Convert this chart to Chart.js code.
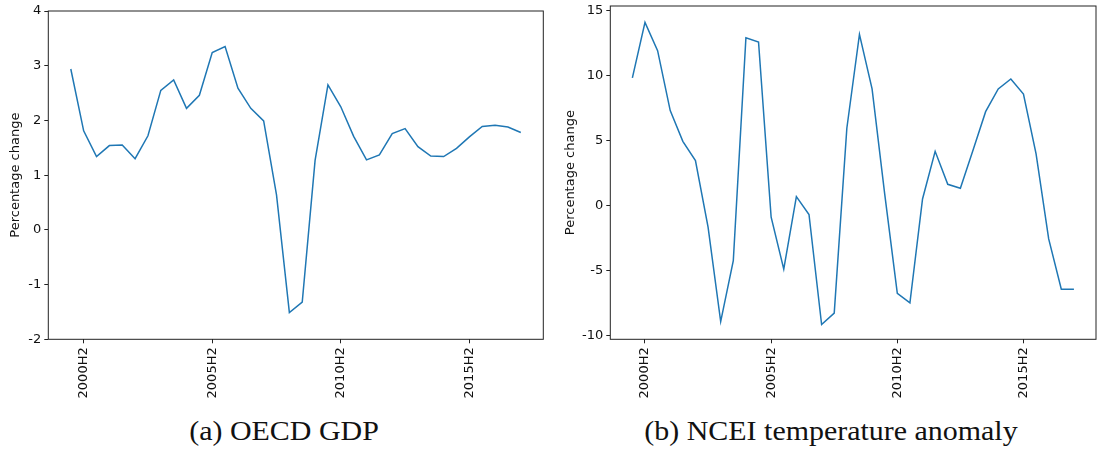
<!DOCTYPE html>
<html>
<head>
<meta charset="utf-8">
<title>OECD GDP and NCEI temperature anomaly</title>
<script src="https://cdn.jsdelivr.net/npm/chart.js@4.4.0/dist/chart.umd.min.js"></script>
<style>
  html, body { margin: 0; padding: 0; background: #fff; }
  #wrap { position: relative; width: 1097px; height: 452px; overflow: hidden; }
  canvas { position: absolute; top: 0; }
  .cap {
    position: absolute; top: 416px;
    font-family: "Liberation Serif", serif; font-size: 26.5px; color: #111;
    white-space: nowrap; transform: translateX(-50%) scaleX(1.13);
  }
</style>
</head>
<body>
<div id="wrap">
  <canvas id="gdp" width="548" height="410" style="left:0"></canvas>
  <canvas id="ncei" width="547" height="410" style="left:550px"></canvas>
  <div class="cap" style="left:284px">(a) OECD GDP</div>
  <div class="cap" style="left:831px">(b) NCEI temperature anomaly</div>
</div>
<script>
// Half-year periods shared by both panels
const periods = [
  '2000H1','2000H2','2001H1','2001H2','2002H1','2002H2','2003H1','2003H2',
  '2004H1','2004H2','2005H1','2005H2','2006H1','2006H2','2007H1','2007H2',
  '2008H1','2008H2','2009H1','2009H2','2010H1','2010H2','2011H1','2011H2',
  '2012H1','2012H2','2013H1','2013H2','2014H1','2014H2','2015H1','2015H2',
  '2016H1','2016H2','2017H1','2017H2'
];

// OECD GDP, percentage change
const gdpChange = [
  2.94, 1.81, 1.34, 1.54, 1.55, 1.30, 1.72, 2.55, 2.74, 2.22, 2.46, 3.24,
  3.35, 2.59, 2.22, 1.99, 0.64, -1.51, -1.32, 1.27, 2.65, 2.25, 1.71, 1.28,
  1.37, 1.76, 1.85, 1.52, 1.35, 1.34, 1.49, 1.70, 1.89, 1.91, 1.88, 1.78
];

// NCEI temperature anomaly, percentage change
const tempAnomaly = [
  9.84, 14.12, 11.94, 7.32, 4.95, 3.47, -1.67, -8.94, -4.24, 12.94, 12.61, -0.90,
  -4.90, 0.69, -0.69, -9.17, -8.29, 5.96, 13.20, 8.99, 0.90, -6.76, -7.50, 0.51,
  4.18, 1.64, 1.33, 4.26, 7.24, 8.99, 9.76, 8.60, 3.98, -2.57, -6.45, -6.45
];

// Tick labels
const xTickLabels = ['2000H2', '2005H2', '2010H2', '2015H2'];
const gdpTicks = [-2, -1, 0, 1, 2, 3, 4];
const tempTicks = [-10, -5, 0, 5, 10, 15];

const TEXT = '#111';
const SPINE = '#222';
const tickFont = { family: 'DejaVu Sans', size: 13 };

// Full box around the plotting area
const frame = {
  id: 'frame',
  afterDraw(chart) {
    const { ctx, chartArea: a } = chart;
    ctx.save();
    ctx.strokeStyle = SPINE;
    ctx.lineWidth = 1;
    ctx.strokeRect(a.left, a.top, a.right - a.left, a.bottom - a.top);
    ctx.restore();
  }
};

function panel(id, values, yTicks, yMin, yMax, box) {
  const xTickPos = xTickLabels.map(l => periods.indexOf(l));
  return new Chart(document.getElementById(id), {
    type: 'line',
    data: {
      datasets: [{
        data: values.map((v, i) => ({ x: i, y: v })),
        borderColor: '#1f77b4',
        borderWidth: 1.5,
        pointRadius: 0,
        tension: 0,
        fill: false
      }]
    },
    options: {
      responsive: false,
      animation: false,
      devicePixelRatio: 1,
      layout: { padding: { left: 0, top: box.top, right: box.right, bottom: 0 } },
      plugins: { legend: { display: false }, tooltip: { enabled: false } },
      scales: {
        x: {
          type: 'linear',
          min: -1.75,
          max: periods.length - 1 + 1.75,
          afterBuildTicks: s => { s.ticks = xTickPos.map(v => ({ value: v })); },
          afterFit: s => { s.height = box.xHeight; s.paddingLeft = 0; s.paddingRight = 0; },
          ticks: {
            autoSkip: false, minRotation: 90, maxRotation: 90, padding: 4,
            color: TEXT, font: tickFont,
            callback: v => periods[v]
          },
          grid: { display: true, drawOnChartArea: false, drawTicks: true, tickLength: 4, color: SPINE, lineWidth: 1 },
          border: { display: false }
        },
        y: {
          type: 'linear',
          min: yMin,
          max: yMax,
          afterBuildTicks: s => { s.ticks = yTicks.map(v => ({ value: v })); },
          afterFit: s => { s.width = box.yWidth; s.paddingTop = 0; s.paddingBottom = 0; },
          ticks: { padding: 3, color: TEXT, font: tickFont },
          grid: { display: true, drawOnChartArea: false, drawTicks: true, tickLength: 4, color: SPINE, lineWidth: 1 },
          border: { display: false },
          title: {
            display: true, text: 'Percentage change', color: TEXT, font: tickFont,
            padding: { top: box.titlePad, bottom: 0 }
          }
        }
      }
    },
    plugins: [frame]
  });
}

panel('gdp', gdpChange, gdpTicks, -2, 4,
  { top: 11, right: 4.7, xHeight: 70.7, yWidth: 48.3, titlePad: 8.2 });
panel('ncei', tempAnomaly, tempTicks, -10.31, 15.385,
  { top: 6, right: 1, xHeight: 70.7, yWidth: 60.3, titlePad: 13.2 });
</script>
</body>
</html>
